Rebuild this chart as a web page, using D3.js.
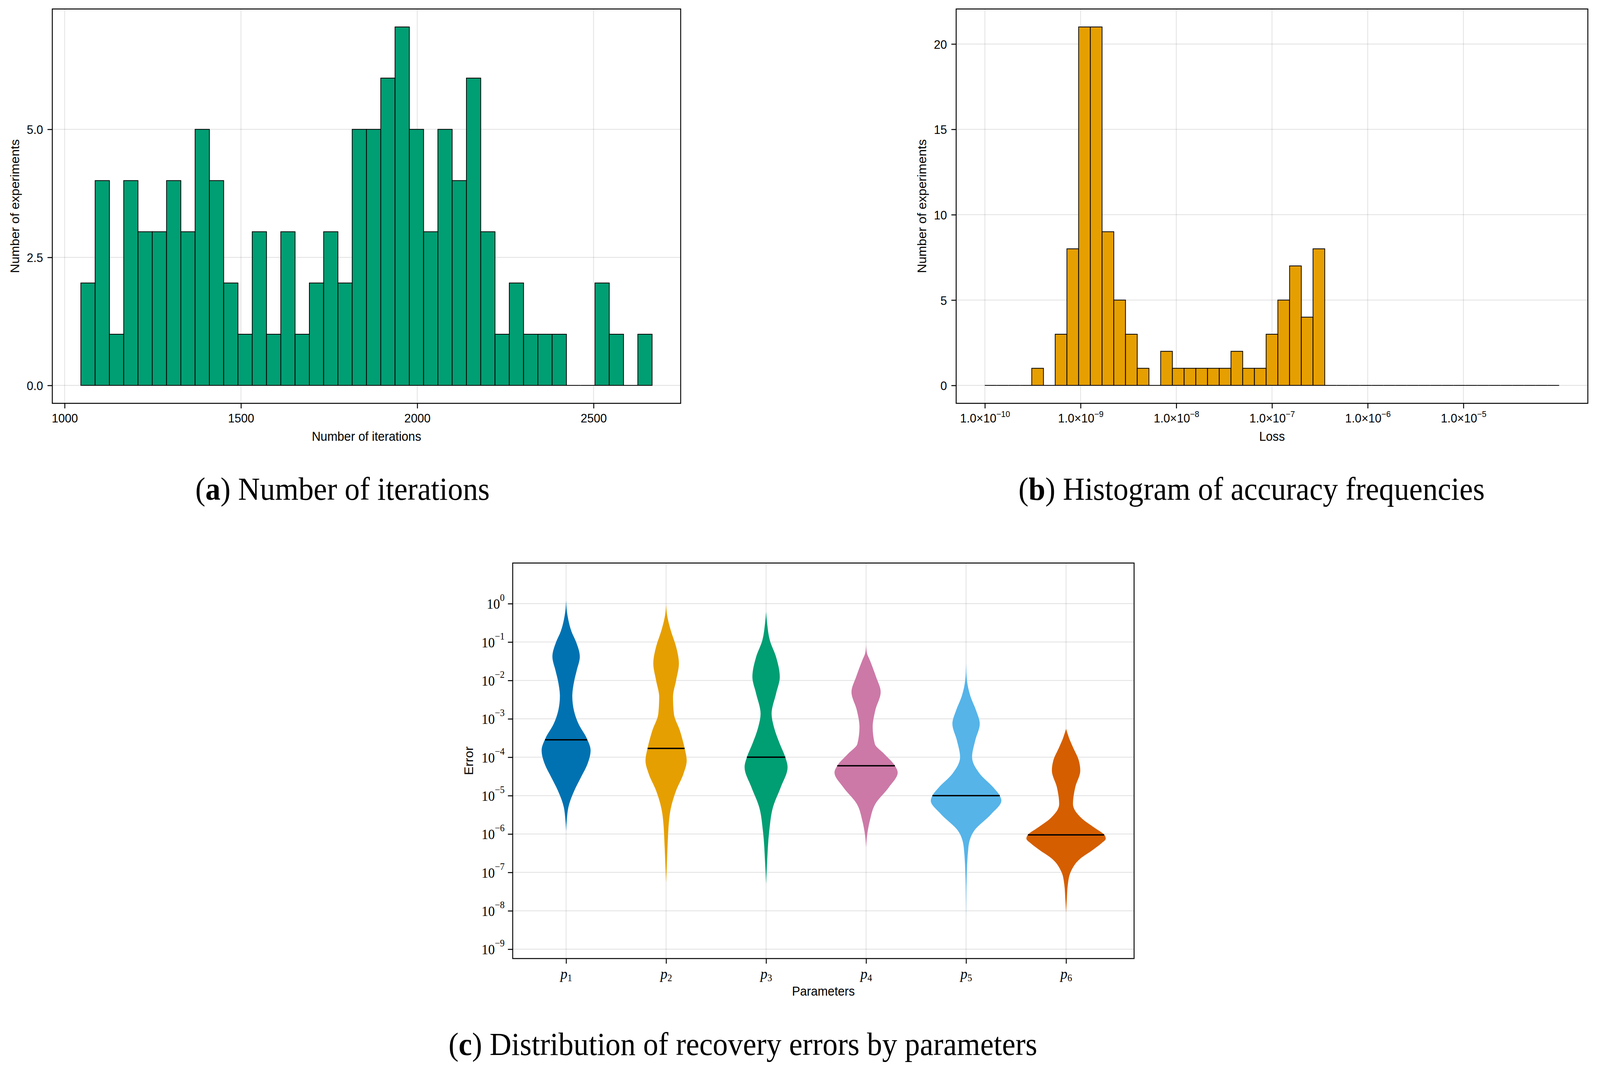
<!DOCTYPE html>
<html>
<head>
<meta charset="utf-8">
<script src="https://cdn.jsdelivr.net/npm/d3@7"></script>
<style>
  html, body { margin: 0; padding: 0; background: #fff; width: 100%; height: 100%; overflow: hidden; }
  svg { display: block; width: 100vw; height: 100vh; }
</style>
</head>
<body>
<svg id="fig" viewBox="0 0 4344 2743" preserveAspectRatio="none"></svg>
<script>
// ---- data ----

// (a) histogram of iteration counts, 40 equal bins
const iterBinStart = 1046;
const iterBinWidth = 40.5;
const iterCounts = [2, 4, 1, 4, 3, 3, 4, 3, 5, 4, 2, 1, 3, 1, 3, 1, 2, 3, 2, 5,
                    5, 6, 7, 5, 3, 5, 4, 6, 3, 1, 2, 1, 1, 1, 0, 0, 2, 1, 0, 1];
const iterTicks = [1000, 1500, 2000, 2500];
const iterCountTicks = [0, 2.5, 5];

// (b) histogram of losses, 49 log-spaced bins from 1e-10 to 1e-4
const lossLogStart = -10;
const lossLogEnd = -4;
const lossCounts = [0, 0, 0, 0, 1, 0, 3, 8, 21, 21, 9, 5, 3, 1, 0, 2, 1, 1, 1, 1,
                    1, 2, 1, 1, 3, 5, 7, 4, 8, 0, 0, 0, 0, 0, 0, 0, 0, 0, 0, 0,
                    0, 0, 0, 0, 0, 0, 0, 0, 0];
const lossTickExps = [-10, -9, -8, -7, -6, -5];
const lossCountTicks = [0, 5, 10, 15, 20];

// (c) violin profiles: [log10(error), half width in category units]
const params = ["1", "2", "3", "4", "5", "6"];
const violinP1 = [[0.08, 0], [-0.2, 0.008], [-0.42, 0.022], [-0.72, 0.053], [-1.0, 0.10],
  [-1.38, 0.137], [-1.74, 0.106], [-2.0, 0.082], [-2.41, 0.062], [-2.78, 0.078],
  [-3.13, 0.124], [-3.5, 0.205], [-3.82, 0.245], [-4.17, 0.215], [-4.53, 0.147],
  [-4.87, 0.082], [-5.3, 0.023], [-5.6, 0.008], [-5.92, 0]];
const violinP2 = [[-0.03, 0], [-0.3, 0.01], [-0.69, 0.046], [-1.12, 0.10], [-1.56, 0.128],
  [-2.0, 0.10], [-2.43, 0.069], [-2.87, 0.078], [-3.3, 0.137], [-3.74, 0.183],
  [-4.09, 0.206], [-4.43, 0.174], [-4.87, 0.10], [-5.48, 0.037], [-6.35, 0.014],
  [-6.9, 0.006], [-7.26, 0]];
const violinP3 = [[-0.21, 0], [-0.5, 0.01], [-0.95, 0.037], [-1.39, 0.10], [-1.91, 0.137],
  [-2.34, 0.10], [-2.87, 0.055], [-3.21, 0.078], [-3.65, 0.137], [-4.0, 0.192],
  [-4.26, 0.215], [-4.78, 0.147], [-5.3, 0.069], [-5.91, 0.032], [-6.79, 0.009],
  [-7.3, 0]];
const violinP4 = [[-1.08, 0], [-1.3, 0.01], [-1.47, 0.037], [-1.91, 0.10], [-2.3, 0.146],
  [-2.78, 0.092], [-3.21, 0.066], [-3.65, 0.087], [-3.91, 0.18], [-4.22, 0.288],
  [-4.4, 0.316], [-4.78, 0.229], [-5.22, 0.092], [-5.66, 0.037], [-6.0, 0.012],
  [-6.35, 0]];
const violinP5 = [[-1.56, 0], [-2.0, 0.009], [-2.43, 0.046], [-2.78, 0.10], [-3.13, 0.137],
  [-3.56, 0.092], [-4.0, 0.06], [-4.43, 0.137], [-4.78, 0.27], [-5.0, 0.337],
  [-5.13, 0.353], [-5.48, 0.252], [-5.91, 0.082], [-6.35, 0.023], [-7.22, 0.005],
  [-8.18, 0]];
const violinP6 = [[-3.26, 0], [-3.5, 0.03], [-3.74, 0.069], [-4.09, 0.128], [-4.35, 0.142],
  [-4.78, 0.092], [-5.22, 0.069], [-5.6, 0.16], [-5.84, 0.286], [-6.03, 0.385],
  [-6.12, 0.397], [-6.25, 0.35], [-6.41, 0.27], [-6.65, 0.138], [-6.99, 0.046],
  [-7.33, 0.017], [-7.67, 0.008], [-8.05, 0]];
const violins = [violinP1, violinP2, violinP3, violinP4, violinP5, violinP6];
const medians = [2.85e-4, 1.7e-4, 1.0e-4, 6.0e-5, 1.0e-5, 9.5e-7];
const errorTickExps = [0, -1, -2, -3, -4, -5, -6, -7, -8, -9];
const violinColors = ["#0072B2", "#E69F00", "#009E73", "#CC79A7", "#56B4E9", "#D55E00"];

// ---- styling ----
const sans = "'Liberation Sans', Arial, sans-serif";
const serif = "'Liberation Serif', 'DejaVu Serif', serif";
const gridColor = "rgba(0,0,0,0.12)";
const tickLen = 13;

const svg = d3.select("#fig");
svg.append("rect").attr("width", 4344).attr("height", 2743).attr("fill", "#fff");

// widen [lo, hi] by 5% each side like the plotting library does
function pad(lo, hi) {
    const m = (hi - lo) * 0.05;
    return [lo - m, hi + m];
}

function barPath(x0, x1, yBase, yTop) {
    return `M${x0},${yBase}V${yTop}H${x1}V${yBase}Z`;
}

function styleAxis(g) {
    g.select(".domain").remove();
    g.selectAll(".tick line").attr("stroke", "#000").attr("stroke-width", 2.5);
    g.selectAll("text").attr("fill", "#000").attr("font-family", sans).style("font-size", "32px");
}

function frame(box) {
    svg.append("rect")
        .attr("x", box.left).attr("y", box.top)
        .attr("width", box.right - box.left).attr("height", box.bottom - box.top)
        .attr("fill", "none").attr("stroke", "#000").attr("stroke-width", 2.5);
}

function grid(box, xs, ys) {
    const g = svg.append("g").attr("stroke", gridColor).attr("stroke-width", 2);
    g.selectAll(".gx").data(xs).join("line")
        .attr("x1", d => d).attr("x2", d => d)
        .attr("y1", box.top).attr("y2", box.bottom);
    g.selectAll(".gy").data(ys).join("line")
        .attr("x1", box.left).attr("x2", box.right)
        .attr("y1", d => d).attr("y2", d => d);
}

function axisLabels(box, xText, yText, yLabelX, xLabelY) {
    svg.append("text")
        .attr("x", (box.left + box.right) / 2)
        .attr("y", xLabelY)
        .attr("text-anchor", "middle")
        .attr("font-family", sans)
        .style("font-size", "33px")
        .text(xText);

    svg.append("text")
        .attr("transform", `translate(${yLabelX},${(box.top + box.bottom) / 2}) rotate(-90)`)
        .attr("text-anchor", "middle")
        .attr("font-family", sans)
        .style("font-size", "33px")
        .text(yText);
}

function caption(cx, y, letter, rest) {
    const t = svg.append("text")
        .attr("x", cx).attr("y", y)
        .attr("text-anchor", "middle")
        .attr("font-family", serif)
        .style("font-size", "82px");
    t.append("tspan").text("(");
    t.append("tspan").attr("font-weight", "bold").text(letter);
    t.append("tspan").text(") " + rest);
}

// ---- (a) number of iterations ----
function iterChart() {
    const box = { left: 142, right: 1848, top: 23, bottom: 1033 };
    const binEnd = iterBinStart + iterBinWidth * iterCounts.length;

    const x = d3.scaleLinear()
        .domain(pad(iterBinStart, binEnd))
        .range([box.left, box.right]);
    const y = d3.scaleLinear()
        .domain(pad(0, d3.max(iterCounts)))
        .range([box.bottom, box.top]);

    grid(box, iterTicks.map(x), iterCountTicks.map(y));

    svg.append("g")
        .selectAll("path")
        .data(iterCounts)
        .join("path")
        .attr("d", (d, i) => barPath(
            x(iterBinStart + i * iterBinWidth),
            x(iterBinStart + (i + 1) * iterBinWidth),
            y(0), y(d)))
        .attr("fill", "#009E73")
        .attr("stroke", "#000")
        .attr("stroke-width", 2)
        .attr("stroke-linejoin", "miter");

    // x axis
    svg.append("g")
        .attr("transform", `translate(0,${box.bottom})`)
        .call(d3.axisBottom(x).tickValues(iterTicks).tickSize(tickLen).tickFormat(d3.format("d")))
        .call(styleAxis)
        .selectAll("text").attr("y", 49).attr("dy", null);

    // y axis
    svg.append("g")
        .attr("transform", `translate(${box.left},0)`)
        .call(d3.axisLeft(y).tickValues(iterCountTicks).tickSize(tickLen).tickFormat(d3.format(".1f")))
        .call(styleAxis)
        .selectAll("text").attr("x", -25).attr("dy", "0.36em");

    frame(box);
    axisLabels(box, "Number of iterations", "Number of experiments", 52, 1129);
}

// ---- (b) histogram of losses ----
function lossChart() {
    const box = { left: 2596, right: 4311, top: 23, bottom: 1033 };
    const step = (lossLogEnd - lossLogStart) / lossCounts.length;
    const padded = pad(lossLogStart, lossLogEnd);

    const x = d3.scaleLog()
        .domain([10 ** padded[0], 10 ** padded[1]])
        .range([box.left, box.right]);
    const y = d3.scaleLinear()
        .domain(pad(0, d3.max(lossCounts)))
        .range([box.bottom, box.top]);

    const tickVals = lossTickExps.map(e => 10 ** e);
    grid(box, tickVals.map(x), lossCountTicks.map(y));

    svg.append("g")
        .selectAll("path")
        .data(lossCounts)
        .join("path")
        .attr("d", (d, i) => barPath(
            x(10 ** (lossLogStart + i * step)),
            x(10 ** (lossLogStart + (i + 1) * step)),
            y(0), y(d)))
        .attr("fill", "#E69F00")
        .attr("stroke", "#000")
        .attr("stroke-width", 2);

    const xg = svg.append("g")
        .attr("transform", `translate(0,${box.bottom})`)
        .call(d3.axisBottom(x).tickValues(tickVals).tickSize(tickLen).tickFormat(""))
        .call(styleAxis);
    xg.selectAll(".tick text")
        .attr("y", 49).attr("dy", null)
        .each(function (d) {
            const t = d3.select(this);
            t.append("tspan").text("1.0×10");
            t.append("tspan")
                .attr("dy", "-0.62em")
                .style("font-size", "22px")
                .text("−" + String(-Math.round(Math.log10(d))));
        });

    svg.append("g")
        .attr("transform", `translate(${box.left},0)`)
        .call(d3.axisLeft(y).tickValues(lossCountTicks).tickSize(tickLen).tickFormat(d3.format("d")))
        .call(styleAxis)
        .selectAll("text").attr("x", -25).attr("dy", "0.36em");

    frame(box);
    axisLabels(box, "Loss", "Number of experiments", 2515, 1129);
}

// ---- (c) violins of recovery errors ----
function violinChart() {
    const box = { left: 1392, right: 3079, top: 1442, bottom: 2455 };

    const x = d3.scaleLinear()
        .domain([0.466, 6.68])
        .range([box.left, box.right]);
    const y = d3.scaleLog()
        .domain([10 ** -9.244, 10 ** 1.058])
        .range([box.bottom, box.top]);

    const catPos = params.map((p, i) => i + 1);
    const tickVals = errorTickExps.map(e => 10 ** e);
    grid(box, catPos.map(x), tickVals.map(y));

    violins.forEach((prof, i) => {
        const c = i + 1;
        const area = d3.area()
            .curve(d3.curveMonotoneY)
            .y(d => y(10 ** d[0]))
            .x0(d => x(c - d[1]))
            .x1(d => x(c + d[1]));

        svg.append("path")
            .datum(prof)
            .attr("d", area)
            .attr("fill", violinColors[i]);

        // median bar spans the violin width at that height
        const hw = d3.scaleLinear()
            .domain(prof.map(d => d[0]))
            .range(prof.map(d => d[1]))(Math.log10(medians[i]));
        svg.append("line")
            .attr("x1", x(c - hw)).attr("x2", x(c + hw))
            .attr("y1", y(medians[i])).attr("y2", y(medians[i]))
            .attr("stroke", "#000")
            .attr("stroke-width", 3.5);
    });

    const xg = svg.append("g")
        .attr("transform", `translate(0,${box.bottom})`)
        .call(d3.axisBottom(x).tickValues(catPos).tickSize(tickLen).tickFormat(""))
        .call(styleAxis);
    xg.selectAll(".tick text")
        .attr("y", 52).attr("dy", null)
        .attr("font-family", serif)
        .each(function (d) {
            const t = d3.select(this);
            t.append("tspan").attr("font-style", "italic").style("font-size", "38px").text("p");
            t.append("tspan").attr("dy", "0.25em").style("font-size", "25px").text(params[d - 1]);
        });

    const yg = svg.append("g")
        .attr("transform", `translate(${box.left},0)`)
        .call(d3.axisLeft(y).tickValues(tickVals).tickSize(tickLen).tickFormat(""))
        .call(styleAxis);
    yg.selectAll(".tick text")
        .attr("x", -22).attr("dy", "0.4em")
        .attr("font-family", serif)
        .each(function (d) {
            const t = d3.select(this);
            const e = Math.round(Math.log10(d));
            t.append("tspan").style("font-size", "36px").text("10");
            t.append("tspan")
                .attr("dy", "-0.8em")
                .style("font-size", "25px")
                .text(e === 0 ? "0" : "−" + String(-e));
        });

    frame(box);
    axisLabels(box, "Parameters", "Error", 1284, 2550);
}

iterChart();
lossChart();
violinChart();

caption(930, 1280, "a", "Number of iterations");
caption(3398, 1280, "b", "Histogram of accuracy frequencies");
caption(2017, 2702, "c", "Distribution of recovery errors by parameters");
</script>
</body>
</html>
